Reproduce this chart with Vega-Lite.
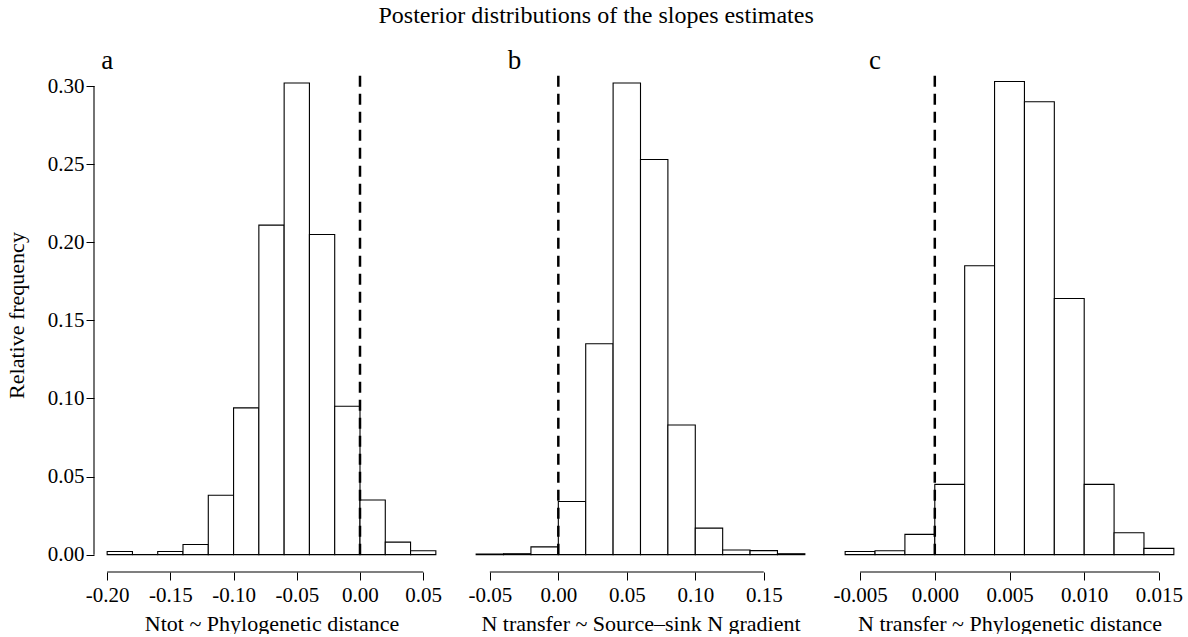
{
  "$schema": "https://vega.github.io/schema/vega-lite/v6.json",
  "padding": {"left": 5, "top": 3, "right": 0, "bottom": 0},
  "config": {
    "font": "Liberation Serif",
    "view": {"stroke": null},
    "axis": {"labelFont": "Liberation Serif", "titleFont": "Liberation Serif", "labelFontSize": 21, "titleFontSize": 22, "titleFontWeight": "normal", "labelColor": "black", "titleColor": "black", "tickColor": "black", "tickSize": 8, "tickWidth": 1, "grid": false, "domain": false}
  },
  "title": {"text": "Posterior distributions of the slopes estimates", "font": "Liberation Serif", "fontSize": 24, "fontWeight": "normal", "color": "black", "frame": "bounds", "anchor": "middle", "offset": 19},
  "datasets": {
    "a": [
      {"start": -0.20, "end": -0.18, "freq": 0.002},
      {"start": -0.18, "end": -0.16, "freq": 0.0},
      {"start": -0.16, "end": -0.14, "freq": 0.002},
      {"start": -0.14, "end": -0.12, "freq": 0.0065},
      {"start": -0.12, "end": -0.10, "freq": 0.038},
      {"start": -0.10, "end": -0.08, "freq": 0.094},
      {"start": -0.08, "end": -0.06, "freq": 0.211},
      {"start": -0.06, "end": -0.04, "freq": 0.302},
      {"start": -0.04, "end": -0.02, "freq": 0.205},
      {"start": -0.02, "end": 0.00, "freq": 0.095},
      {"start": 0.00, "end": 0.02, "freq": 0.035},
      {"start": 0.02, "end": 0.04, "freq": 0.008},
      {"start": 0.04, "end": 0.06, "freq": 0.0025}
    ],
    "b": [
      {"start": -0.06, "end": -0.04, "freq": 0.0004},
      {"start": -0.04, "end": -0.02, "freq": 0.0006},
      {"start": -0.02, "end": 0.00, "freq": 0.005},
      {"start": 0.00, "end": 0.02, "freq": 0.034},
      {"start": 0.02, "end": 0.04, "freq": 0.135},
      {"start": 0.04, "end": 0.06, "freq": 0.302},
      {"start": 0.06, "end": 0.08, "freq": 0.253},
      {"start": 0.08, "end": 0.10, "freq": 0.083},
      {"start": 0.10, "end": 0.12, "freq": 0.017},
      {"start": 0.12, "end": 0.14, "freq": 0.003},
      {"start": 0.14, "end": 0.16, "freq": 0.0026},
      {"start": 0.16, "end": 0.18, "freq": 0.0006}
    ],
    "c": [
      {"start": -0.006, "end": -0.004, "freq": 0.002},
      {"start": -0.004, "end": -0.002, "freq": 0.0025},
      {"start": -0.002, "end": 0.000, "freq": 0.013},
      {"start": 0.000, "end": 0.002, "freq": 0.045},
      {"start": 0.002, "end": 0.004, "freq": 0.185},
      {"start": 0.004, "end": 0.006, "freq": 0.303},
      {"start": 0.006, "end": 0.008, "freq": 0.29},
      {"start": 0.008, "end": 0.010, "freq": 0.164},
      {"start": 0.010, "end": 0.012, "freq": 0.045},
      {"start": 0.012, "end": 0.014, "freq": 0.014},
      {"start": 0.014, "end": 0.016, "freq": 0.004}
    ]
  },
  "spacing": 14,
  "bounds": "flush",
  "hconcat": [
    {
      "width": 355, "height": 514,
      "layer": [
        {
          "data": {"name": "a"},
          "mark": {"type": "bar", "fill": "white", "stroke": "black", "strokeWidth": 1.1},
          "encoding": {
            "x": {"field": "start", "type": "quantitative", "scale": {"domain": [-0.2104, 0.0704], "nice": false, "zero": false},
                  "axis": {"title": "Ntot ~ Phylogenetic distance", "values": [-0.2, -0.15, -0.1, -0.05, 0, 0.05], "labelExpr": "replace(format(datum.value, '.2f'), '\u2212', '-')", "labelPadding": 4, "titlePadding": 8}},
            "x2": {"field": "end"},
            "y": {"field": "freq", "type": "quantitative", "scale": {"domain": [-0.0111, 0.318], "nice": false, "zero": false},
                  "axis": {"title": "Relative frequency", "values": [0, 0.05, 0.1, 0.15, 0.2, 0.25, 0.3], "format": ".2f", "labelPadding": 2, "titlePadding": 19}},
            "y2": {"datum": 0}
          }
        },
        {
          "data": {"values": [{}]},
          "mark": {"type": "rule", "color": "black", "strokeWidth": 1.1},
          "encoding": {"x": {"datum": -0.2, "type": "quantitative"}, "x2": {"datum": 0.05}, "y": {"datum": -0.0111, "type": "quantitative"}}
        },
        {
          "data": {"values": [{}]},
          "mark": {"type": "rule", "color": "black", "strokeWidth": 1.1},
          "encoding": {"x": {"datum": -0.2104, "type": "quantitative"}, "y": {"datum": 0, "type": "quantitative"}, "y2": {"datum": 0.3}}
        },
        {
          "data": {"values": [{}]},
          "mark": {"type": "rule", "color": "black", "strokeWidth": 2.5, "strokeDash": [11, 7]},
          "encoding": {"x": {"datum": 0, "type": "quantitative"}, "y": {"datum": 0, "type": "quantitative"}, "y2": {"datum": 0.307}}
        },
        {
          "data": {"values": [{}]},
          "mark": {"type": "text", "fontSize": 27, "align": "center", "baseline": "alphabetic", "color": "black"},
          "encoding": {"x": {"datum": -0.2, "type": "quantitative"}, "y": {"datum": 0.311, "type": "quantitative"}, "text": {"value": "a"}}
        }
      ]
    },
    {
      "width": 355, "height": 514,
      "layer": [
        {
          "data": {"name": "b"},
          "mark": {"type": "bar", "fill": "white", "stroke": "black", "strokeWidth": 1.1},
          "encoding": {
            "x": {"field": "start", "type": "quantitative", "scale": {"domain": [-0.0696, 0.1896], "nice": false, "zero": false},
                  "axis": {"title": "N transfer ~ Source–sink N gradient", "values": [-0.05, 0, 0.05, 0.1, 0.15], "labelExpr": "replace(format(datum.value, '.2f'), '\u2212', '-')", "labelPadding": 4, "titlePadding": 8}},
            "x2": {"field": "end"},
            "y": {"field": "freq", "type": "quantitative", "scale": {"domain": [-0.0111, 0.318], "nice": false, "zero": false}, "axis": null},
            "y2": {"datum": 0}
          }
        },
        {
          "data": {"values": [{}]},
          "mark": {"type": "rule", "color": "black", "strokeWidth": 1.1},
          "encoding": {"x": {"datum": -0.05, "type": "quantitative"}, "x2": {"datum": 0.15}, "y": {"datum": -0.0111, "type": "quantitative"}}
        },
        {
          "data": {"values": [{}]},
          "mark": {"type": "rule", "color": "black", "strokeWidth": 2.5, "strokeDash": [11, 7]},
          "encoding": {"x": {"datum": 0, "type": "quantitative"}, "y": {"datum": 0, "type": "quantitative"}, "y2": {"datum": 0.307}}
        },
        {
          "data": {"values": [{}]},
          "mark": {"type": "text", "fontSize": 27, "align": "center", "baseline": "alphabetic", "color": "black"},
          "encoding": {"x": {"datum": -0.032, "type": "quantitative"}, "y": {"datum": 0.311, "type": "quantitative"}, "text": {"value": "b"}}
        }
      ]
    },
    {
      "width": 355, "height": 514,
      "layer": [
        {
          "data": {"name": "c"},
          "mark": {"type": "bar", "fill": "white", "stroke": "black", "strokeWidth": 1.1},
          "encoding": {
            "x": {"field": "start", "type": "quantitative", "scale": {"domain": [-0.00688, 0.01688], "nice": false, "zero": false},
                  "axis": {"title": "N transfer ~ Phylogenetic distance", "values": [-0.005, 0, 0.005, 0.01, 0.015], "labelExpr": "replace(format(datum.value, '.3f'), '\u2212', '-')", "labelPadding": 4, "titlePadding": 8}},
            "x2": {"field": "end"},
            "y": {"field": "freq", "type": "quantitative", "scale": {"domain": [-0.0111, 0.318], "nice": false, "zero": false}, "axis": null},
            "y2": {"datum": 0}
          }
        },
        {
          "data": {"values": [{}]},
          "mark": {"type": "rule", "color": "black", "strokeWidth": 1.1},
          "encoding": {"x": {"datum": -0.005, "type": "quantitative"}, "x2": {"datum": 0.015}, "y": {"datum": -0.0111, "type": "quantitative"}}
        },
        {
          "data": {"values": [{}]},
          "mark": {"type": "rule", "color": "black", "strokeWidth": 2.5, "strokeDash": [11, 7]},
          "encoding": {"x": {"datum": 0, "type": "quantitative"}, "y": {"datum": 0, "type": "quantitative"}, "y2": {"datum": 0.307}}
        },
        {
          "data": {"values": [{}]},
          "mark": {"type": "text", "fontSize": 27, "align": "center", "baseline": "alphabetic", "color": "black"},
          "encoding": {"x": {"datum": -0.004, "type": "quantitative"}, "y": {"datum": 0.311, "type": "quantitative"}, "text": {"value": "c"}}
        }
      ]
    }
  ]
}
